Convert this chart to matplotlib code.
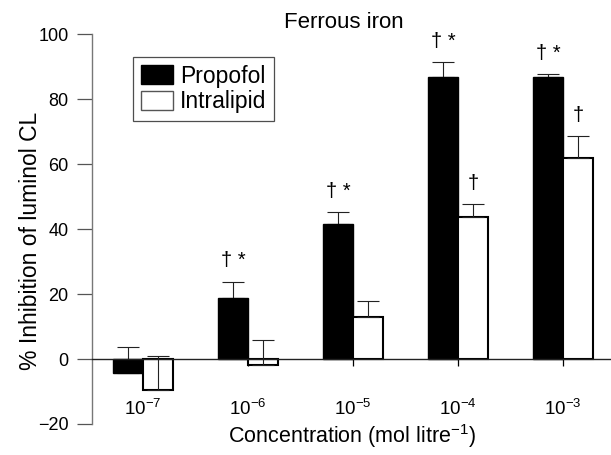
import numpy as np
import matplotlib.pyplot as plt
from matplotlib.patches import Patch

plt.rcParams['font.family'] = ['Liberation Sans', 'DejaVu Sans']
plt.rcParams['mathtext.fontset'] = 'custom'
plt.rcParams['mathtext.rm'] = 'Liberation Sans'
plt.rcParams['mathtext.it'] = 'Liberation Sans:italic'

conc_labels = ['10$^{-7}$', '10$^{-6}$', '10$^{-5}$', '10$^{-4}$', '10$^{-3}$']
propofol = [-4.3, 18.8, 41.5, 86.7, 86.7]
propofol_err = [8.0, 5.0, 3.7, 4.6, 1.0]
intralipid = [-9.4, -1.7, 13.0, 43.6, 61.8]
intralipid_err = [10.2, 7.7, 4.7, 4.0, 6.7]
propofol_marks = ['', '\u2020 *', '\u2020 *', '\u2020 *', '\u2020 *']
intralipid_marks = ['', '', '', '\u2020', '\u2020']

x = np.arange(len(conc_labels))
w = 0.285

fig = plt.figure(figsize=(6.11, 4.55), dpi=100)
ax = fig.add_axes([92/611, 1 - 424/455, 1 - 92/611, 390/455])

ax.bar(x - w/2, propofol, w, color='black', edgecolor='black', linewidth=1.0, zorder=2)
ax.bar(x + w/2, intralipid, w, color='white', edgecolor='black', linewidth=1.5, zorder=2)

zeros = np.zeros(len(x))
ax.errorbar(x - w/2, propofol, yerr=[zeros, propofol_err], fmt='none', ecolor='#222222',
            elinewidth=0.8, capsize=8, capthick=0.8, zorder=1)
ax.errorbar(x + w/2, intralipid, yerr=[zeros, intralipid_err], fmt='none', ecolor='#222222',
            elinewidth=0.8, capsize=8, capthick=0.8, zorder=3)

for i in range(len(x)):
    if propofol_marks[i]:
        ax.text(x[i] - w/2, propofol[i] + propofol_err[i] + 3.5, propofol_marks[i],
                ha='center', va='bottom', fontsize=14.5)
    if intralipid_marks[i]:
        ax.text(x[i] + w/2, intralipid[i] + intralipid_err[i] + 3.5, intralipid_marks[i],
                ha='center', va='bottom', fontsize=14.5)

ax.set_xlim(-0.486, 4.457)
ax.set_ylim(-20, 100)
ax.set_yticks([-20, 0, 20, 40, 60, 80, 100])
ax.set_yticklabels(['\u221220', '0', '20', '40', '60', '80', '100'])
ax.set_xticks(x)
ax.set_xticklabels(conc_labels)

ax.spines['top'].set_visible(False)
ax.spines['right'].set_visible(False)
ax.spines['bottom'].set_position(('data', 0))
ax.spines['left'].set_linewidth(1.0)
ax.spines['left'].set_color('#777777')
ax.spines['bottom'].set_linewidth(1.0)
ax.spines['bottom'].set_color('#222222')
ax.tick_params(axis='y', direction='out', length=11, width=0.9, pad=6, labelsize=13, color='#555555')
ax.tick_params(axis='x', direction='out', length=5, width=0.9, pad=24, labelsize=13.5)

leg = ax.legend(handles=[Patch(facecolor='black', edgecolor='black', label='Propofol'),
                         Patch(facecolor='white', edgecolor='#555555', label='Intralipid')],
                loc='upper left', bbox_to_anchor=((133 - 92)/519, (424 - 56.7)/390), borderaxespad=0,
                fontsize=16.5, fancybox=False, handlelength=1.4, handleheight=0.9,
                handletextpad=0.3, borderpad=0.35, labelspacing=0.1)
leg.get_frame().set_edgecolor('#222222')
leg.get_frame().set_linewidth(0.9)

fig.text(344/611, 1 - 27.7/455, 'Ferrous iron', ha='center', va='baseline', fontsize=16)
fig.text(351.5/611, 1 - 443/455, 'Concentration (mol litre$^{-1}$)', ha='center', va='baseline',
         fontsize=15.5)
fig.text(37/611, 1 - 241/455, '% Inhibition of luminol CL', ha='center', va='baseline',
         rotation=90, rotation_mode='anchor', fontsize=16.5)

fig.savefig('out.png', dpi=100)
